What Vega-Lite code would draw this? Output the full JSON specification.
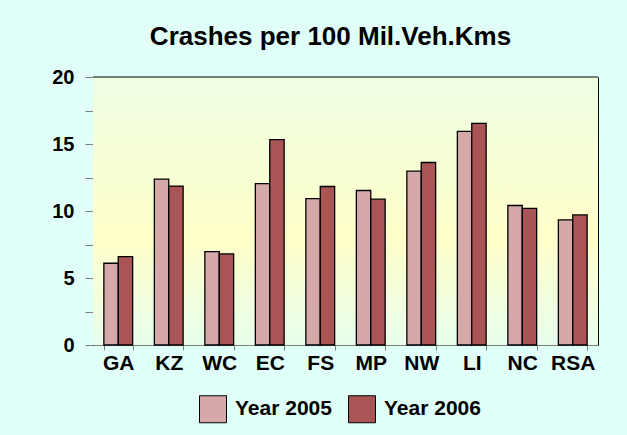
{
  "$schema": "https://vega.github.io/schema/vega-lite/v6.json",
  "width": 505,
  "height": 268,
  "autosize": "none",
  "padding": {"left": 93, "top": 77, "right": 29, "bottom": 90},
  "background": "#e0fff8",
  "title": {
    "text": "Crashes per 100 Mil.Veh.Kms",
    "font": "Liberation Sans",
    "fontSize": 26,
    "fontWeight": "bold",
    "color": "black",
    "anchor": "middle",
    "frame": "group",
    "dx": -15,
    "offset": 17
  },
  "data": {
    "values": [
      {"region": "GA", "year": "Year 2005", "value": 6.1},
      {"region": "GA", "year": "Year 2006", "value": 6.6},
      {"region": "KZ", "year": "Year 2005", "value": 12.38},
      {"region": "KZ", "year": "Year 2006", "value": 11.86},
      {"region": "WC", "year": "Year 2005", "value": 6.97},
      {"region": "WC", "year": "Year 2006", "value": 6.8},
      {"region": "EC", "year": "Year 2005", "value": 12.05},
      {"region": "EC", "year": "Year 2006", "value": 15.32},
      {"region": "FS", "year": "Year 2005", "value": 10.93},
      {"region": "FS", "year": "Year 2006", "value": 11.83},
      {"region": "MP", "year": "Year 2005", "value": 11.53},
      {"region": "MP", "year": "Year 2006", "value": 10.88},
      {"region": "NW", "year": "Year 2005", "value": 12.98},
      {"region": "NW", "year": "Year 2006", "value": 13.62},
      {"region": "LI", "year": "Year 2005", "value": 15.94},
      {"region": "LI", "year": "Year 2006", "value": 16.54},
      {"region": "NC", "year": "Year 2005", "value": 10.41},
      {"region": "NC", "year": "Year 2006", "value": 10.19},
      {"region": "RSA", "year": "Year 2005", "value": 9.34},
      {"region": "RSA", "year": "Year 2006", "value": 9.71}
    ]
  },
  "layer": [
    {
      "data": {"values": [{}]},
      "mark": {
        "type": "rect",
        "fill": {
          "gradient": "linear",
          "x1": 0, "y1": 0, "x2": 0, "y2": 1,
          "stops": [
            {"offset": 0, "color": "#eefee4"},
            {"offset": 0.6, "color": "#ffffc8"},
            {"offset": 1, "color": "#e8feec"}
          ]
        }
      },
      "encoding": {}
    },
    {
      "mark": {"type": "bar", "stroke": "black", "strokeWidth": 1.3},
      "encoding": {
        "x": {
          "field": "region",
          "type": "nominal",
          "sort": null,
          "scale": {"paddingInner": 0.43, "paddingOuter": 0.215},
          "axis": {
            "title": null,
            "labelAngle": 0,
            "labelFont": "Liberation Sans",
            "labelFontSize": 21,
            "labelFontWeight": "bold",
            "labelColor": "black",
            "labelPadding": 2,
            "domainColor": "#808080",
            "tickColor": "#808080",
            "tickSize": 5,
            "tickBand": "extent"
          }
        },
        "xOffset": {"field": "year", "type": "nominal", "scale": {"paddingInner": 0}},
        "y": {
          "field": "value",
          "type": "quantitative",
          "scale": {"domain": [0, 20], "nice": false},
          "axis": {
            "title": null,
            "values": [0, 2.5, 5, 7.5, 10, 12.5, 15, 17.5, 20],
            "labelExpr": "datum.value % 5 === 0 ? datum.label : ''",
            "labelFont": "Liberation Sans",
            "labelFontSize": 20,
            "labelFontWeight": "bold",
            "labelColor": "black",
            "labelPadding": 11,
            "domainColor": "black",
            "tickColor": "#808080",
            "tickSize": 8,
            "grid": true,
            "gridColor": "#808080",
            "gridOpacity": {"condition": {"test": "datum.value % 5 !== 0", "value": 0}, "value": 1}
          }
        },
        "color": {
          "field": "year",
          "type": "nominal",
          "scale": {"range": ["#d5a9a9", "#a95555"]},
          "legend": {
            "title": null,
            "orient": "none",
            "legendX": 106,
            "legendY": 318,
            "direction": "horizontal",
            "symbolType": "square",
            "symbolSize": 729,
            "symbolStrokeColor": "black",
            "symbolStrokeWidth": 1,
            "symbolOpacity": 1,
            "labelFont": "Liberation Sans",
            "labelFontSize": 21,
            "labelFontWeight": "bold",
            "labelColor": "black",
            "labelOffset": 8,
            "columnPadding": 14
          }
        }
      }
    },
    {
      "data": {"values": [{}]},
      "mark": {"type": "rule", "color": "black", "strokeWidth": 1},
      "encoding": {
        "y": {
          "datum": 20,
          "type": "quantitative",
          "axis": {
            "orient": "right",
            "title": null,
            "labels": false,
            "ticks": false,
            "grid": false,
            "domainColor": "black"
          }
        }
      }
    }
  ],
  "resolve": {"axis": {"y": "independent"}},
  "config": {
    "view": {"stroke": null},
    "font": "Liberation Sans"
  }
}
